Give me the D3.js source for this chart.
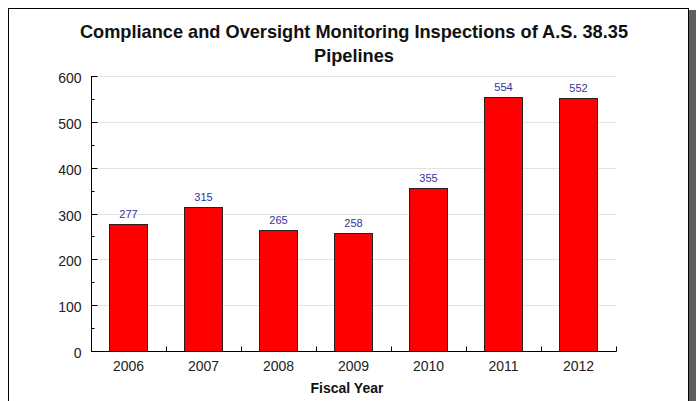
<!DOCTYPE html>
<html><head><meta charset="utf-8">
<script src="https://cdn.jsdelivr.net/npm/d3@7"></script>
<style>html,body{margin:0;padding:0;background:#fff;}svg{display:block;}</style>
</head><body>
<script>
const categories = ["2006","2007","2008","2009","2010","2011","2012"];
const values = [277, 315, 265, 258, 355, 554, 552];
const yTicks = [0,100,200,300,400,500,600];
const titleLines = ["Compliance and Oversight Monitoring Inspections of A.S. 38.35","Pipelines"];
const xTitle = "Fiscal Year";

(function(){
const W = 696, H = 401;
const FONT = "Liberation Sans, Arial, sans-serif";
const svg = d3.select("body").append("svg").attr("width", W).attr("height", H);

// frame + shadow
svg.append("rect").attr("x", 688).attr("y", 10).attr("width", 8).attr("height", H).attr("fill", "#5f5f5f");
svg.append("rect").attr("x", 8.5).attr("y", 8.5).attr("width", 680).attr("height", H + 10)
  .attr("fill", "#fff").attr("stroke", "#000").attr("stroke-width", 1);

const pl = 91, pr = 616, pt = 76, pb = 351;
const x = d3.scaleBand().domain(categories).range([pl, pr]).paddingInner(0.49).paddingOuter(0.245);
const xb = d3.scaleBand().domain(categories).range([pl, pr]);
const y = d3.scaleLinear().domain([0, 600]).range([pb, pt]);

// gridlines
svg.append("g").selectAll("line").data(yTicks.filter(d => d > 0)).join("line")
  .attr("x1", pl).attr("x2", pr).attr("y1", d => Math.round(y(d)) + 0.5).attr("y2", d => Math.round(y(d)) + 0.5)
  .attr("stroke", "#e3e3e3").attr("stroke-width", 1);

// title
const t = svg.append("text").attr("text-anchor", "middle").attr("font-family", FONT)
  .attr("font-weight", "bold").attr("font-size", 18.2).attr("fill", "#111");
titleLines.forEach((l, i) => t.append("tspan").attr("x", 354).attr("y", 38 + i * 24).text(l));

// bars
svg.append("g").selectAll("rect").data(values).join("rect")
  .attr("x", (d, i) => Math.round(x(categories[i])) + 0.5)
  .attr("y", d => Math.round(y(d)) + 0.5)
  .attr("width", Math.round(x.bandwidth()))
  .attr("height", d => Math.round(y(0)) - Math.round(y(d)))
  .attr("fill", "#ff0000").attr("stroke", "#222").attr("stroke-width", 1);

// value labels
svg.append("g").selectAll("text").data(values).join("text")
  .attr("x", (d, i) => x(categories[i]) + x.bandwidth() / 2)
  .attr("y", d => y(d) - 6)
  .attr("text-anchor", "middle").attr("font-family", FONT)
  .attr("font-size", 11).attr("fill", "#333399").text(d => d);

// y axis
const yAxis = svg.append("g").attr("transform", `translate(${pl + 0.5},0)`)
  .call(d3.axisLeft(y).tickValues(yTicks).tickSize(-6).tickPadding(9));
yAxis.select(".domain").remove();
yAxis.append("line").attr("x1", 0).attr("x2", 0).attr("y1", pt).attr("y2", pb).attr("stroke", "#000");
yAxis.selectAll("g.tick").attr("transform", d => `translate(0,${Math.round(y(d)) + 0.5})`);
yAxis.selectAll(".tick line").attr("stroke", "#000");
yAxis.selectAll(".tick text").attr("font-family", FONT).attr("font-size", 14).attr("fill", "#222")
  .attr("x", -10).attr("dy", "0.45em");
// minor ticks
const minor = d3.range(50, 600, 100);
yAxis.append("g").selectAll("line").data(minor).join("line")
  .attr("x1", 0).attr("x2", 3).attr("y1", d => Math.round(y(d)) + 0.5).attr("y2", d => Math.round(y(d)) + 0.5).attr("stroke", "#000");

// x axis
const xAxis = svg.append("g").attr("transform", `translate(0,${Math.round(pb) + 0.5})`)
  .call(d3.axisBottom(xb).tickSize(0).tickPadding(10));
xAxis.select(".domain").remove();
xAxis.append("line").attr("x1", pl).attr("x2", pr + 0.5).attr("stroke", "#000");
xAxis.selectAll(".tick text").attr("font-family", FONT).attr("font-size", 14).attr("fill", "#222");
const bounds = categories.slice(1).map(c => xb(c)).concat([pr]);
xAxis.append("g").selectAll("line").data(bounds).join("line")
  .attr("x1", d => Math.round(d) + 0.5).attr("x2", d => Math.round(d) + 0.5).attr("y1", 0).attr("y2", -5).attr("stroke", "#000");

svg.append("text").attr("x", 347).attr("y", 393).attr("text-anchor", "middle")
  .attr("font-family", FONT).attr("font-weight", "bold").attr("font-size", 14)
  .attr("fill", "#111").text(xTitle);
})();
</script>
</body></html>
